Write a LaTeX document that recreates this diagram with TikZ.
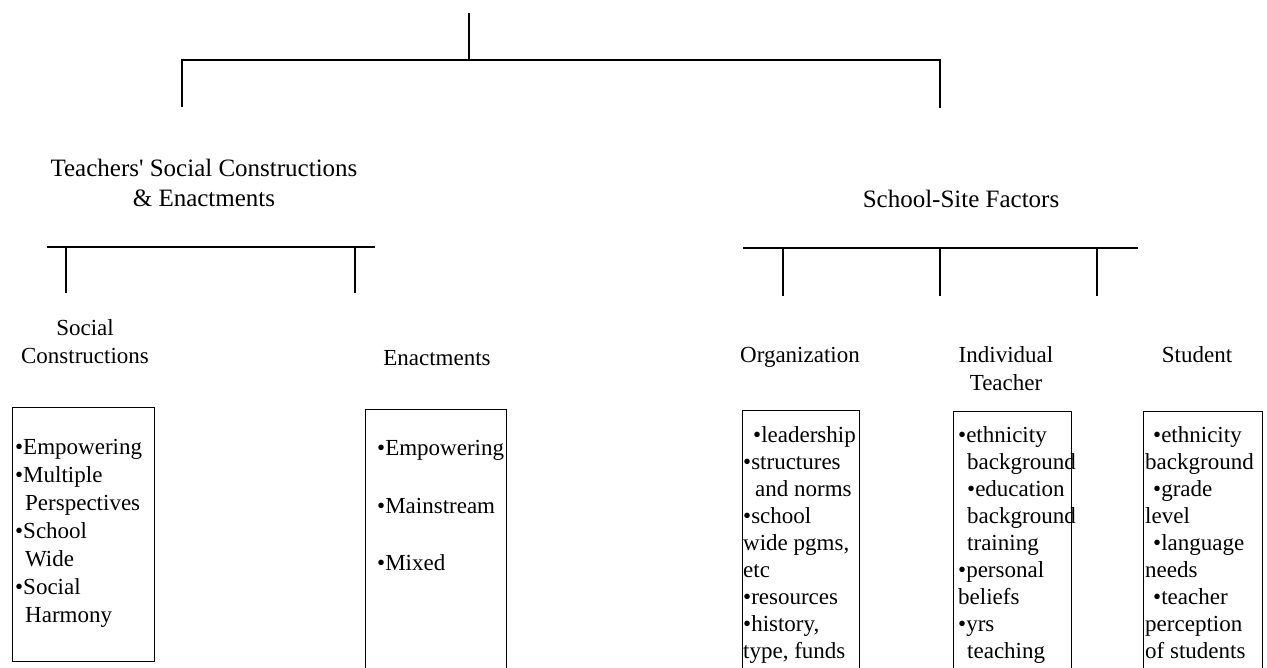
\documentclass[tikz,border=0pt]{standalone}
\usepackage{fontspec}
\setmainfont{Liberation Serif}

\tikzset{
  branch/.style={line width=1.4pt},
  itembox/.style={draw, line width=1.4pt, anchor=north west, inner sep=0pt},
  headtext/.style={font=\fontsize{25}{30}\selectfont, align=center, inner sep=0pt},
  sublabel/.style={font=\fontsize{23}{28}\selectfont, align=center, inner sep=0pt},
  itemtext/.style={font=\fontsize{23}{27}\selectfont, align=left, anchor=north west, inner sep=0pt},
}

\begin{document}
\begin{tikzpicture}[x=1pt,y=1pt,yscale=-1,xscale=1]
  \useasboundingbox (0,0) rectangle (1267,667);
  \clip (0,0) rectangle (1267,667);

  % top of the tree
  \coordinate (root) at (469,13);
  \coordinate (topbar) at (469,60);
  \coordinate (tsdrop) at (182,107);
  \coordinate (ssdrop) at (940,108);
  \draw[branch] (root) -- (topbar);
  \draw[branch] (tsdrop) -- (tsdrop |- topbar) -- (ssdrop |- topbar) -- (ssdrop);

  \node[headtext] (teach) at (204,183) {Teachers\textquotesingle{} Social Constructions\\\& Enactments};
  \node[headtext] (site) at (961,199) {School-Site Factors};

  % left branch
  \coordinate (lbarl) at (47,247);
  \coordinate (lbarr) at (375,247);
  \coordinate (scdrop) at (66,293);
  \coordinate (endrop) at (355,293);
  \draw[branch] (lbarl) -- (lbarr);
  \draw[branch] (scdrop |- lbarl) -- (scdrop);
  \draw[branch] (endrop |- lbarl) -- (endrop);

  % right branch
  \coordinate (rbarl) at (743,248);
  \coordinate (rbarr) at (1138,248);
  \coordinate (orgdrop) at (783,296);
  \coordinate (inddrop) at (940,296);
  \coordinate (studrop) at (1097,296);
  \draw[branch] (rbarl) -- (rbarr);
  \draw[branch] (orgdrop |- rbarl) -- (orgdrop);
  \draw[branch] (inddrop |- rbarl) -- (inddrop);
  \draw[branch] (studrop |- rbarl) -- (studrop);

  \node[sublabel] (sclabel) at (85,342) {Social\\Constructions};
  \node[sublabel] (enlabel) at (437,358) {Enactments};
  \node[sublabel] (orglabel) at (800,357) {Organization};
  \node[sublabel] (indlabel) at (1006,369) {Individual\\Teacher};
  \node[sublabel] (stulabel) at (1197,355) {Student};

  % boxes
  \node[itembox, minimum width=142pt, minimum height=254pt] (scbox) at (12,407) {};
  \node[itembox, minimum width=141pt, minimum height=280pt] (enbox) at (365,409) {};
  \node[itembox, minimum width=117pt, minimum height=280pt] (orgbox) at (742,410) {};
  \node[itembox, minimum width=118pt, minimum height=280pt] (indbox) at (953,411) {};
  \node[itembox, minimum width=119pt, minimum height=280pt] (stubox) at (1143,411) {};

  \node[itemtext, font=\fontsize{23}{28}\selectfont] (scitems) at (15,439) {•Empowering\\•Multiple\\\hspace*{10pt}Perspectives\\•School\\\hspace*{10pt}Wide\\•Social\\\hspace*{10pt}Harmony};
  \node[itemtext] (enitems) at (377,440) {•Empowering\\[31pt]•Mainstream\\[30pt]•Mixed};
  \node[itemtext] (orgitems) at (743,426) {\hspace*{10pt}•leadership\\•structures\\\hspace*{12pt}and norms\\•school\\wide pgms,\\etc\\•resources\\•history,\\type, funds};
  \node[itemtext] (inditems) at (958,426) {•ethnicity\\\hspace*{9pt}background\\\hspace*{9pt}•education\\\hspace*{9pt}background\\\hspace*{9pt}training\\•personal\\beliefs\\•yrs\\\hspace*{9pt}teaching};
  \node[itemtext] (stuitems) at (1145,426) {\hspace*{8pt}•ethnicity\\background\\\hspace*{8pt}•grade\\level\\\hspace*{8pt}•language\\needs\\\hspace*{8pt}•teacher\\perception\\of students};
\end{tikzpicture}
\end{document}
